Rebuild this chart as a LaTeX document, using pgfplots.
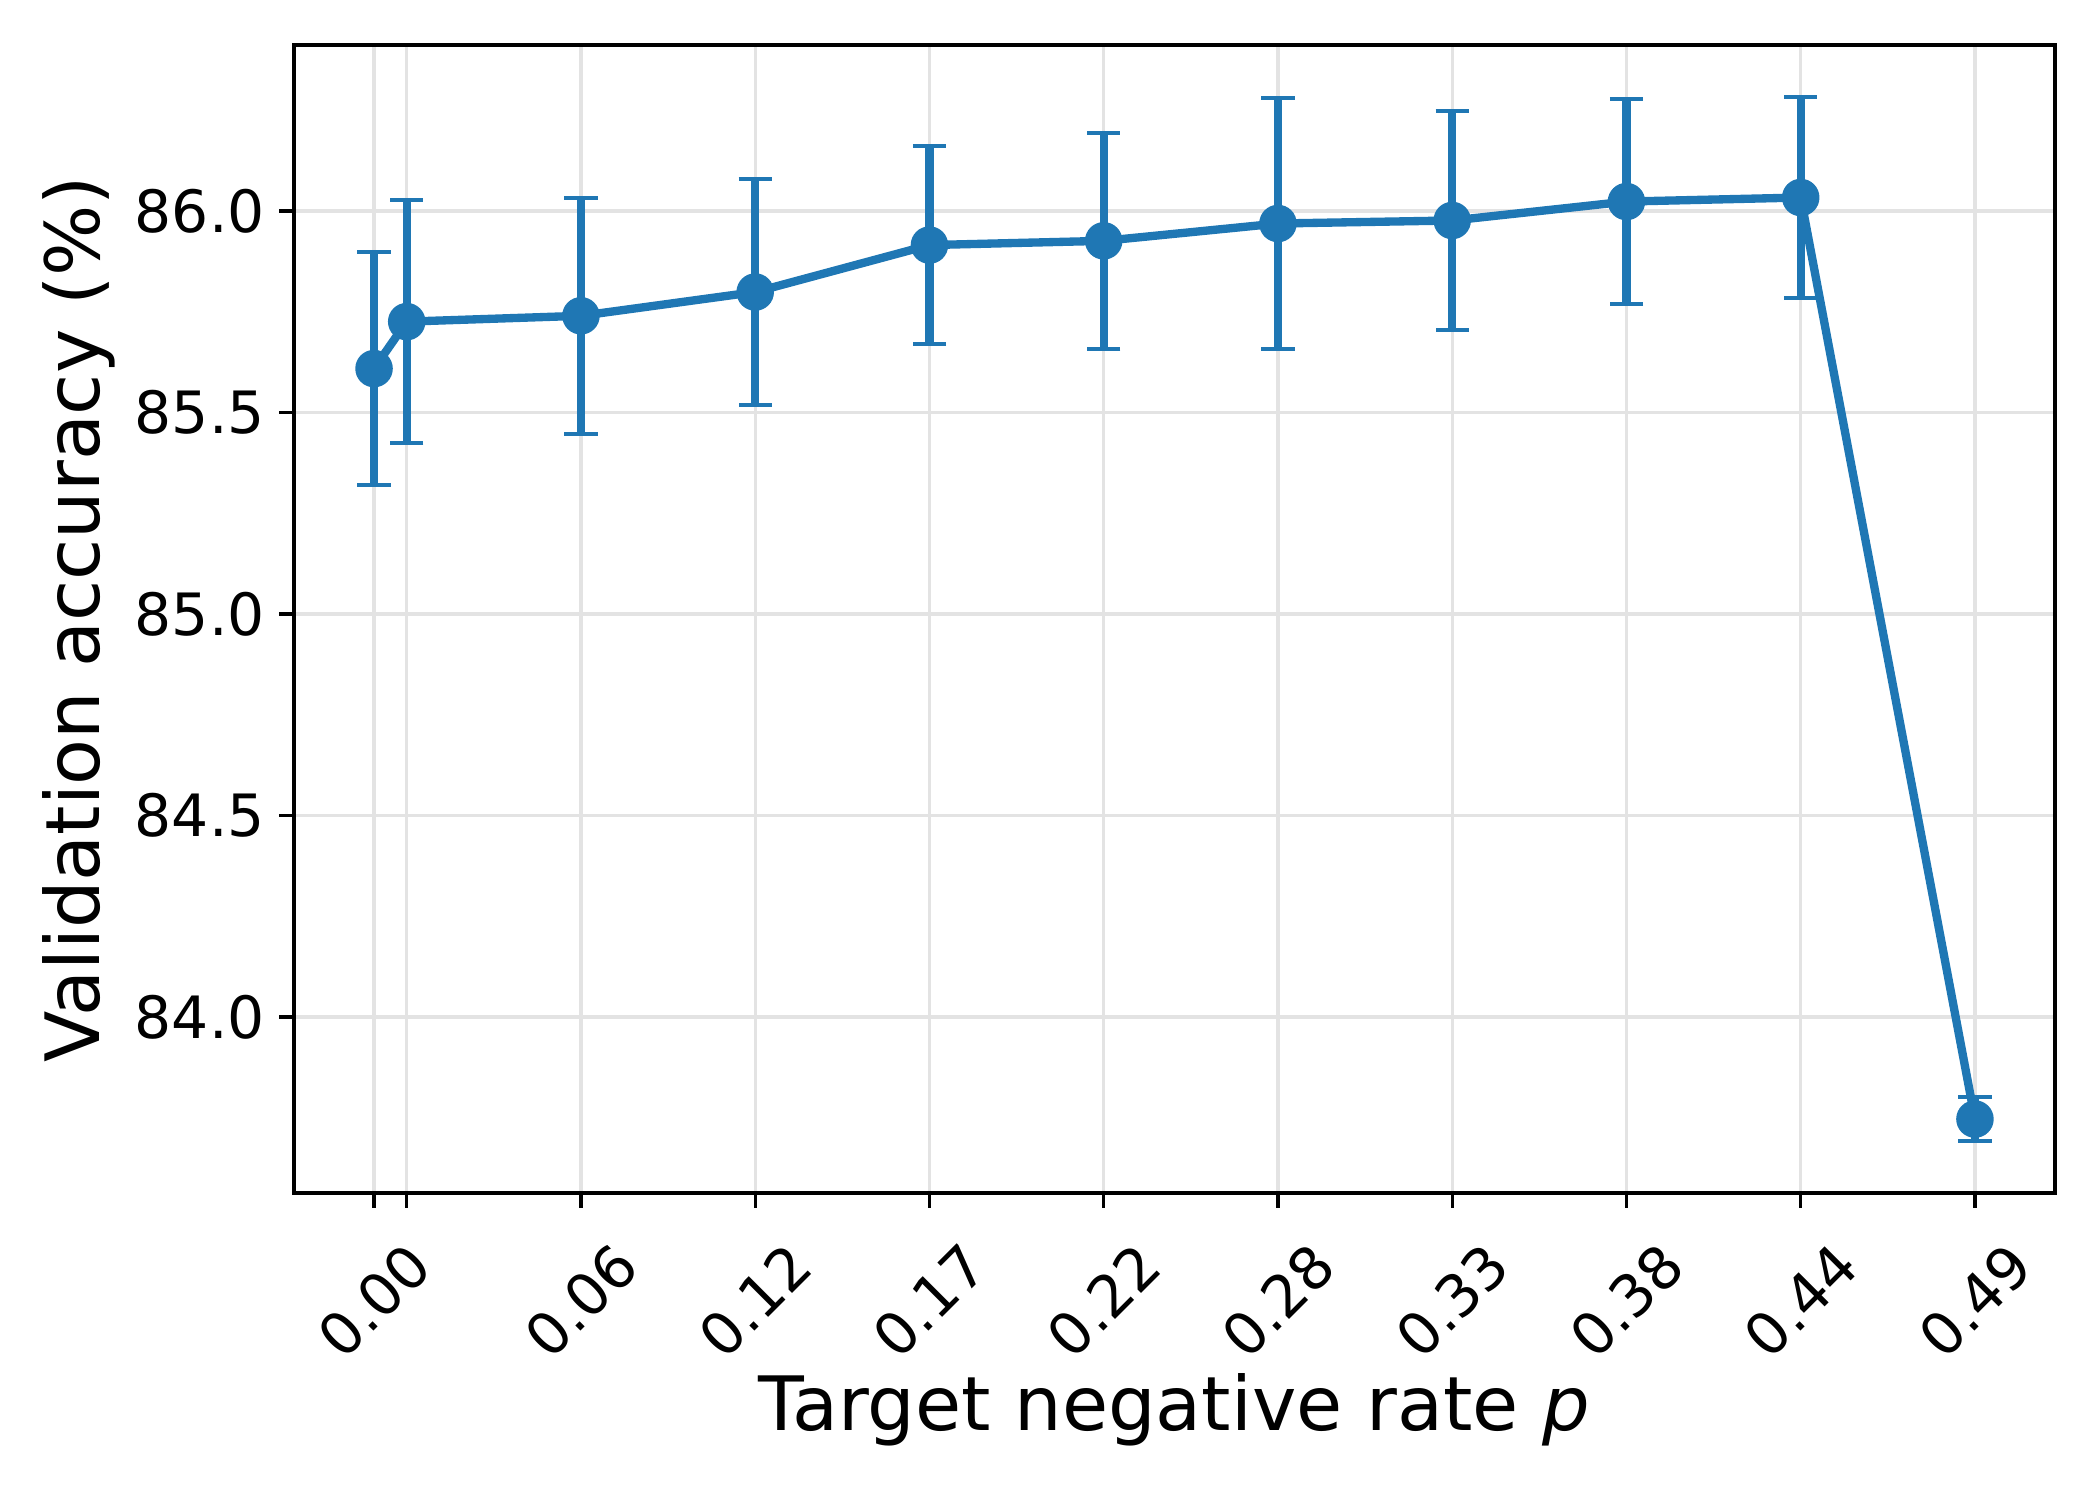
\documentclass[border=0pt]{standalone}
\usepackage{fontspec}
\setmainfont{DejaVu Sans}
\usepackage{pgfplots}
\pgfplotsset{compat=1.18}

\definecolor{mplblue}{HTML}{1F77B4}

\begin{document}
\begin{tikzpicture}
\useasboundingbox (-70.56pt,-73.68pt) rectangle (433.44pt,286.32pt);
\begin{axis}[
  scale only axis,
  width=422.64pt, height=275.52pt,
  xmin=-0.0245, xmax=0.5145,
  ymin=83.563, ymax=86.412,
  xtick={0,0.01,0.063333,0.116667,0.17,0.223333,0.276667,0.33,0.383333,0.436667,0.49},
  xticklabels={0.00,{},0.06,0.12,0.17,0.22,0.28,0.33,0.38,0.44,0.49},
  ytick={84,84.5,85,85.5,86},
  yticklabels={84.0,84.5,85.0,85.5,86.0},
  /pgf/number format/assume math mode=true,
  tick align=outside,
  tick pos=left,
  major tick length=3.5pt,
  every tick/.style={black, line width=0.8pt},
  axis line style={black, line width=0.8pt},
  grid=major,
  major grid style={black!11, line width=0.8pt},
  ticklabel style={font=\fontsize{14}{16}\selectfont},
  xticklabel style={yshift=-22.4pt, rotate=45, anchor=center},
  yticklabel style={anchor=east},
  xlabel={Target negative rate \textit{p}},
  ylabel={Validation accuracy (\%)},
  label style={font=\fontsize{18}{21}\selectfont},
  xlabel style={at={(axis description cs:0.5,-0.2065)}, anchor=base},
  ylabel style={at={(axis description cs:-0.1103,0.5)}, anchor=base},
]
\addplot [mplblue, line width=2pt, mark=*, mark size=3.5pt,
  error bars/.cd, y dir=both, y explicit,
  error bar style={line width=2pt},
  error mark options={rotate=90, mark size=4pt, line width=1pt, mplblue}]
table [x=x, y=y, y error=e] {
x        y        e
0        85.609   0.289
0.01     85.7255  0.3015
0.063333 85.740   0.2925
0.116667 85.799   0.280
0.17     85.9155  0.2455
0.223333 85.926   0.268
0.276667 85.969   0.311
0.33     85.9765  0.2715
0.383333 86.0235  0.2545
0.436667 86.0335  0.2495
0.49     83.7465  0.0545
};
\end{axis}
\end{tikzpicture}
\end{document}
